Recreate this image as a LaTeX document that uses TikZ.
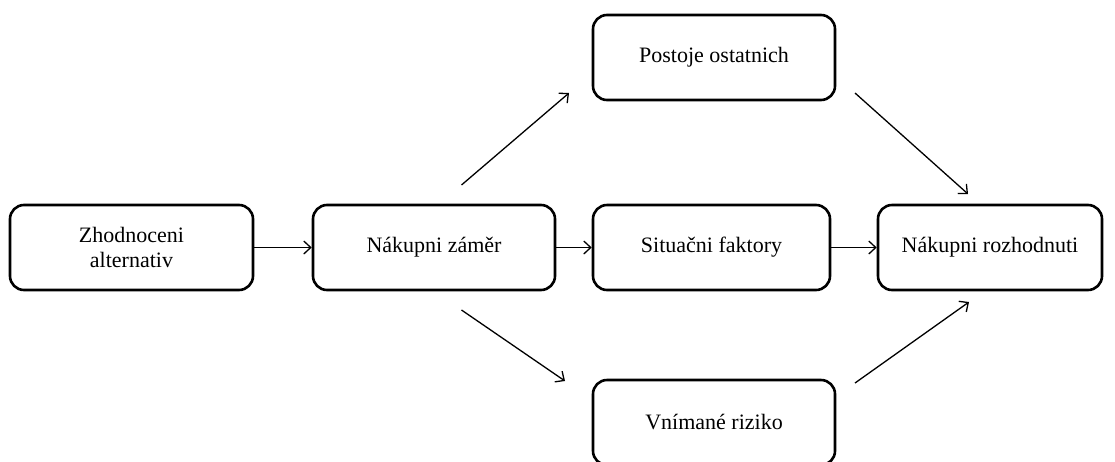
\documentclass[tikz,border=0pt]{standalone}
\usepackage{fontspec}
\setmainfont{Liberation Serif}
\usetikzlibrary{arrows.meta}
\begin{document}
\begin{tikzpicture}[x=1pt,y=-1pt,
  stage/.style={draw=black, line width=2.6pt, rounded corners=14pt,
    minimum width=242pt, minimum height=85pt, inner sep=0pt, align=center,
    font=\fontsize{22}{25}\selectfont},
  flow/.style={line width=1.3pt, -{Straight Barb[length=7pt,width=13pt,line width=1.3pt]}}]
\useasboundingbox (0,0) rectangle (1115,461);
\clip (0,0) rectangle (1115,461);
\fill[white] (0,0) rectangle (1115,461);

% stages of the decision process
\node[stage, minimum width=243pt] (zhod) at (131.5,247.5) {Zhodnoceni\\alternativ};
\node[stage] (zamer) at (434,247.5) {Nákupni záměr};
\node[stage, minimum width=237pt] (situ) at (711.5,247.5) {Situačni faktory};
\node[stage, minimum width=224pt] (rozh) at (990,247.5) {Nákupni rozhodnuti};
\node[stage] (postoje) at (714,57.5) {Postoje ostatnich};
\node[stage] (riziko) at (714,422.5) {Vnímané riziko};

% free-standing diagonal arrows
\coordinate (a1s) at (461.5,185);
\coordinate (a1e) at (569,93);
\coordinate (a2s) at (855,93);
\coordinate (a2e) at (968,194);
\coordinate (a3s) at (461.5,310);
\coordinate (a3e) at (565,381);
\coordinate (a4s) at (855,383);
\coordinate (a4e) at (969,302);

\draw[flow] (zhod) -- (zamer);
\draw[flow] (zamer) -- (situ);
\draw[flow] (situ) -- (rozh);
\draw[flow] (a1s) -- (a1e);
\draw[flow] (a2s) -- (a2e);
\draw[flow] (a3s) -- (a3e);
\draw[flow] (a4s) -- (a4e);
\end{tikzpicture}
\end{document}
